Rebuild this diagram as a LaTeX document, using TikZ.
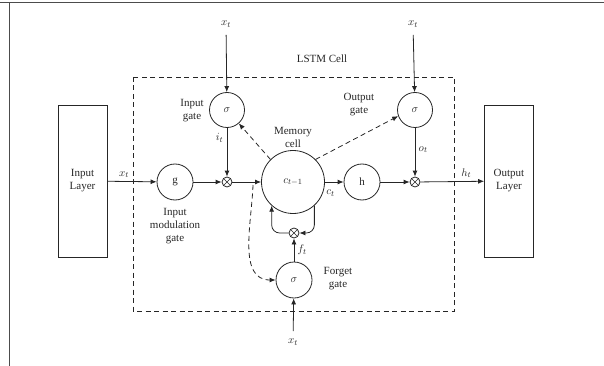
\documentclass[tikz,border=0pt]{standalone}
\usepackage{fontspec}
\setmainfont{Liberation Serif}
\usetikzlibrary{arrows.meta,positioning,calc}

\begin{document}
\begin{tikzpicture}[x=1pt,y=-1pt, line width=0.8pt, black!85,
  font=\fontsize{11}{13}\selectfont,
  >={Latex[length=6pt,width=5pt]},
  peep/.style={dash pattern=on 5pt off 3.5pt},
  unit/.style={draw, circle, minimum size=36pt, inner sep=0pt},
  mult/.style={draw, circle, minimum size=10pt, inner sep=0pt,
    path picture={\draw[line width=0.6pt]
      (path picture bounding box.north west) -- (path picture bounding box.south east)
      (path picture bounding box.north east) -- (path picture bounding box.south west);}},
  layer/.style={draw, minimum width=49pt, minimum height=152pt, align=center},
  lbl/.style={align=center}]
  \useasboundingbox (0,0) rectangle (604,366);
  % Frame of the figure
  \draw[gray!60!black, line width=1pt] (0,3) -- (604,3);
  \draw[gray!60!black, line width=1pt] (9.5,3) -- (9.5,366);
  % Layers and cell
  \node[layer] (inlayer) at (82.5,181) {Input\\Layer};
  \node[layer] (outlayer) at (509,181) {Output\\Layer};
  \draw[peep] (133,77) rectangle (454,311);
  \node (celltitle) at (322,59) {LSTM Cell};
  % Units
  \node[unit] (gunit) at (175,182) {g};
  \node[mult] (imult) at (227,182) {};
  \node[unit, minimum size=63pt] (memcell) at (293,182) {$c_{t-1}$};
  \node[unit] (hunit) at (362,182) {h};
  \node[mult] (omult) at (415,182) {};
  \node[unit, minimum size=35pt] (igate) at (227,110) {$\sigma$};
  \node[unit, minimum size=35pt] (ogate) at (415,110) {$\sigma$};
  \node[unit] (fgate) at (294,280) {$\sigma$};
  \node[mult] (fmult) at (294,233) {};
  % Inputs x_t
  \node (xin) at (226,24) {$x_t$};
  \node (xout) at (413,24) {$x_t$};
  \node (xforget) at (293,342) {$x_t$};
  % Labels
  \node[lbl] (igatetxt) at (192,111) {Input\\gate};
  \node[lbl] (memtxt) at (293,137) {Memory\\cell};
  \node[lbl] (ogatetxt) at (359,105) {Output\\gate};
  \node[lbl] (gtxt) at (175,226) {Input\\modulation\\gate};
  \node[lbl] (fgatetxt) at (338,279) {Forget\\gate};
  % Main line
  \draw[->] (inlayer) -- node[above, pos=0.34] {$x_t$} (gunit);
  \draw[->] (gunit) -- (imult);
  \draw[->] (imult) -- (memcell);
  \draw[->] (memcell) -- node[below=4pt, pos=0.3] {$c_t$} (hunit);
  \draw[->] (hunit) -- (omult);
  \draw[->] (omult) -- node[above, pos=0.72] {$h_t$} (outlayer);
  % Gates
  \draw[->, shorten <=4pt] (xin) -- (igate);
  \draw[->, shorten <=4pt] (xout) -- (ogate);
  \draw[->, shorten <=4pt] (xforget) -- (fgate);
  \draw[->] (igate) -- node[left, pos=0.2] {$i_t$} (imult);
  \draw[->] (ogate) -- node[right, pos=0.45] {$o_t$} (omult);
  \draw[->] (fgate) -- node[right] {$f_t$} (fmult);
  % Recurrent loop through forget multiplier
  \draw[->, rounded corners=8pt] (memcell.-48) |- (fmult.east);
  \draw[->, rounded corners=8pt] (fmult.west) -| (memcell.-132);
  % Peephole connections
  \coordinate (fork) at (253,185);
  \draw[peep, ->] (memcell.135) -- (igate);
  \draw[peep, ->] (memcell.45) -- (ogate.200);
  \draw[peep, ->] (fork) to[out=-92, in=180] (fgate.west);
\end{tikzpicture}
\end{document}
